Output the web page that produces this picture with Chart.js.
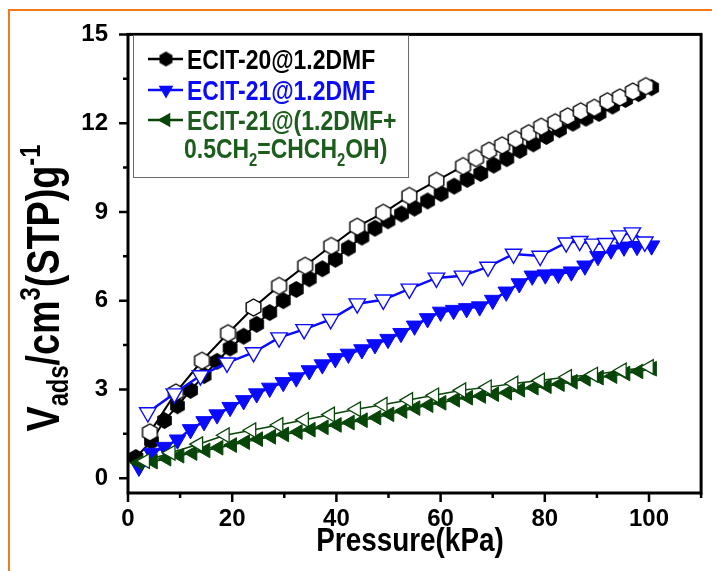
<!DOCTYPE html>
<html>
<head>
<meta charset="utf-8">
<title>Adsorption isotherms</title>
<script src="https://cdn.jsdelivr.net/npm/chart.js@4.4.1/dist/chart.umd.min.js"></script>
<style>
  html, body { margin: 0; padding: 0; background: #fff; }
  #wrap { width: 712px; height: 571px; position: relative; }
</style>
</head>
<body>
<div id="wrap"><canvas id="chart" width="712" height="571"></canvas></div>
<script>
// ECIT-20@1.2DMF, adsorption (filled) and desorption (open)
const ecit20AdsX = [1.5, 4.5, 7.0, 9.5, 12.0, 14.6, 17.1, 19.6, 22.2, 24.7, 27.2, 29.8, 32.3, 34.8, 37.3, 39.8, 42.3, 44.9, 47.4, 49.9,
                    52.5, 55.0, 57.5, 60.1, 62.6, 65.1, 67.7, 70.2, 72.7, 75.2, 77.8, 80.3, 82.8, 85.4, 87.9, 90.4, 93.0, 95.5, 98.0, 100.5];
const ecit20AdsY = [0.70, 1.25, 1.95, 2.45, 2.97, 3.47, 3.95, 4.40, 4.80, 5.20, 5.60, 6.00, 6.38, 6.74, 7.08, 7.40, 7.78, 8.15, 8.45, 8.70,
                    8.93, 9.13, 9.37, 9.62, 9.87, 10.10, 10.30, 10.58, 10.80, 11.08, 11.30, 11.55, 11.78, 12.00, 12.17, 12.33, 12.58, 12.80, 13.00, 13.20];
const ecit20DesX = [4.2, 9.2, 14.2, 19.2, 24.1, 29.0, 34.0, 39.0, 44.0, 49.0, 54.0, 59.2, 64.3, 66.8, 69.3, 71.8, 74.4, 76.9, 79.3, 82.0,
                    84.4, 86.9, 89.5, 92.0, 94.4, 96.9, 99.4];
const ecit20DesY = [1.55, 2.90, 3.97, 4.90, 5.77, 6.50, 7.18, 7.85, 8.50, 8.97, 9.54, 10.05, 10.55, 10.82, 11.07, 11.25, 11.46, 11.66, 11.88, 12.03,
                    12.23, 12.40, 12.52, 12.74, 12.87, 13.07, 13.25];

// ECIT-21@1.2DMF
const ecit21AdsX = [2.1, 4.5, 7.0, 9.5, 12.0, 14.6, 17.1, 19.6, 22.2, 24.7, 27.2, 29.8, 32.3, 34.8, 37.3, 39.8, 42.3, 44.9, 47.4, 49.9,
                    52.4, 55.0, 57.5, 60.0, 62.5, 65.0, 67.5, 70.0, 72.6, 75.1, 77.6, 80.1, 82.6, 85.1, 87.7, 90.2, 92.7, 95.2, 97.7, 100.5];
const ecit21AdsY = [0.38, 0.85, 1.05, 1.30, 1.65, 1.92, 2.15, 2.40, 2.63, 2.86, 3.05, 3.24, 3.40, 3.64, 3.84, 4.05, 4.20, 4.35, 4.52, 4.70,
                    4.90, 5.15, 5.40, 5.62, 5.68, 5.74, 5.80, 6.02, 6.30, 6.58, 6.84, 6.88, 6.90, 6.98, 7.18, 7.50, 7.72, 7.82, 7.84, 7.86];
const ecit21DesX = [3.8, 8.9, 13.9, 19.0, 24.1, 29.0, 33.8, 38.9, 44.0, 49.0, 54.0, 59.2, 64.2, 69.1, 74.0, 79.1, 84.1, 86.7, 89.2, 91.7,
                    94.3, 96.8, 99.2];
const ecit21DesY = [2.22, 2.86, 3.47, 3.90, 4.25, 4.75, 5.03, 5.37, 5.90, 6.03, 6.40, 6.77, 6.84, 7.14, 7.58, 7.51, 7.96, 8.01, 7.92, 7.94,
                    8.20, 8.30, 7.99];

// ECIT-21@(1.2DMF+0.5CH2=CHCH2OH)
const ecit21aAdsX = [2.0, 4.8, 7.4, 9.9, 12.4, 14.9, 17.4, 20.0, 22.5, 25.0, 27.5, 30.0, 32.6, 35.1, 37.6, 40.1, 42.6, 45.1, 47.7, 50.2,
                     52.7, 55.2, 57.7, 60.2, 62.8, 65.3, 67.8, 70.3, 72.8, 75.3, 77.9, 80.4, 82.9, 85.4, 87.9, 90.4, 93.0, 95.5, 98.0, 100.6];
const ecit21aAdsY = [0.52, 0.56, 0.66, 0.76, 0.85, 0.94, 1.03, 1.12, 1.22, 1.32, 1.40, 1.48, 1.56, 1.64, 1.72, 1.80, 1.88, 1.96, 2.05, 2.16,
                     2.27, 2.37, 2.47, 2.55, 2.65, 2.72, 2.78, 2.84, 2.89, 2.99, 3.06, 3.11, 3.18, 3.26, 3.36, 3.40, 3.45, 3.54, 3.61, 3.70];
const ecit21aDesX = [3.3, 8.2, 13.5, 18.6, 23.7, 28.9, 33.8, 38.8, 43.8, 48.9, 53.8, 58.8, 64.0, 68.9, 74.0, 79.1, 84.3, 89.3, 94.8, 100.0];
const ecit21aDesY = [0.58, 0.86, 1.15, 1.45, 1.62, 1.80, 1.97, 2.15, 2.33, 2.48, 2.64, 2.80, 2.97, 3.07, 3.20, 3.30, 3.42, 3.50, 3.64, 3.76];

const X_TICKS = [0, 20, 40, 60, 80, 100];
const X_MINOR = [10, 30, 50, 70, 90, 110];
const Y_TICKS = [0, 3, 6, 9, 12, 15];
const Y_MINOR = [1.5, 4.5, 7.5, 10.5, 13.5];

const BLACK = '#000000';
const BLUE = '#0a0aff';
const GREEN = '#084508';
const GREEN_TEXT = '#1c5c1c';

// condensed bold face if there is one, otherwise regular bold squeezed horizontally
const probe = document.createElement('canvas').getContext('2d');
probe.font = "bold 40px 'Liberation Sans Narrow', monospace";
const wNarrow = probe.measureText('ECIT-20@1.2DMF').width;
probe.font = 'bold 40px monospace';
const HAS_NARROW = Math.abs(wNarrow - probe.measureText('ECIT-20@1.2DMF').width) > 1;
const FONT = HAS_NARROW ? "'Liberation Sans Narrow', sans-serif" : "'Liberation Sans', Arial, sans-serif";
const SQUEEZE = HAS_NARROW ? 1 : 0.82;
const TICK_SIZE = HAS_NARROW ? 28 : 24;

function pts(xs, ys) {
  return xs.map((x, i) => ({ x, y: ys[i] }));
}

// pointy-top hexagon marker as an offscreen canvas
function hexMarker(r, fill, stroke, lw) {
  const s = Math.ceil(2 * r + lw + 2);
  const c = document.createElement('canvas');
  c.width = s; c.height = s;
  const g = c.getContext('2d');
  g.beginPath();
  for (let i = 0; i < 6; i++) {
    const a = -Math.PI / 2 + i * Math.PI / 3;
    const px = s / 2 + r * Math.cos(a), py = s / 2 + r * Math.sin(a);
    i ? g.lineTo(px, py) : g.moveTo(px, py);
  }
  g.closePath();
  g.fillStyle = fill;
  g.fill();
  if (lw) { g.lineWidth = lw; g.strokeStyle = stroke; g.stroke(); }
  return c;
}

const hexFilled = hexMarker(8.5, BLACK, BLACK, 0);
const hexOpen = hexMarker(8.5, '#ffffff', BLACK, 1.4);
const hexLegend = hexMarker(7.5, BLACK, BLACK, 0);

function triPath(ctx, x, y, r, rotDeg) {
  let a = rotDeg * Math.PI / 180;
  ctx.beginPath();
  for (let i = 0; i < 3; i++) {
    const px = x + Math.sin(a) * r, py = y - Math.cos(a) * r;
    i ? ctx.lineTo(px, py) : ctx.moveTo(px, py);
    a += 2 * Math.PI / 3;
  }
  ctx.closePath();
}

function richWidth(ctx, parts) {
  let w = 0;
  for (const p of parts) {
    ctx.font = `bold ${p.size}px ${FONT}`;
    w += ctx.measureText(p.t).width;
  }
  return w * SQUEEZE;
}

// a run of text pieces on one baseline; pieces may be sub/superscripts
function richText(ctx, parts, x, y, color, align) {
  const w = richWidth(ctx, parts);
  ctx.save();
  ctx.translate(align === 'center' ? x - w / 2 : x, y);
  ctx.scale(SQUEEZE, 1);
  ctx.fillStyle = color;
  ctx.textBaseline = 'alphabetic';
  ctx.textAlign = 'left';
  let cx = 0;
  for (const p of parts) {
    ctx.font = `bold ${p.size}px ${FONT}`;
    ctx.fillText(p.t, cx, p.dy || 0);
    cx += ctx.measureText(p.t).width;
  }
  ctx.restore();
}

const decorPlugin = {
  id: 'decor',
  beforeDraw(chart) {
    const ctx = chart.ctx;
    ctx.save();
    ctx.fillStyle = '#fff';
    ctx.fillRect(0, 0, chart.width, chart.height);
    // orange outer frame
    ctx.strokeStyle = '#f27a1e';
    ctx.lineWidth = 2;
    ctx.beginPath();
    ctx.moveTo(9, chart.height + 2);
    ctx.lineTo(9, 10);
    ctx.lineTo(chart.width + 2, 10);
    ctx.stroke();
    ctx.restore();
  },
  afterDraw(chart) {
    const ctx = chart.ctx;
    const a = chart.chartArea;
    const xs = chart.scales.x, ys = chart.scales.y;
    ctx.save();

    // axis frame
    ctx.strokeStyle = BLACK;
    ctx.lineWidth = 3;
    ctx.strokeRect(a.left, a.top, a.right - a.left, a.bottom - a.top);

    // outward tick marks
    ctx.lineWidth = 2.5;
    ctx.beginPath();
    X_TICKS.forEach(v => { const px = xs.getPixelForValue(v); ctx.moveTo(px, a.bottom); ctx.lineTo(px, a.bottom + 9); });
    X_MINOR.forEach(v => { const px = xs.getPixelForValue(v); ctx.moveTo(px, a.bottom); ctx.lineTo(px, a.bottom + 5); });
    Y_TICKS.forEach(v => { const py = ys.getPixelForValue(v); ctx.moveTo(a.left, py); ctx.lineTo(a.left - 9, py); });
    Y_MINOR.forEach(v => { const py = ys.getPixelForValue(v); ctx.moveTo(a.left, py); ctx.lineTo(a.left - 5, py); });
    ctx.stroke();

    // x title
    richText(ctx, [{ t: 'Pressure(kPa)', size: 34 }], 410, 551, BLACK, 'center');

    // y title, rotated
    ctx.save();
    ctx.translate(59, 288);
    ctx.rotate(-Math.PI / 2);
    richText(ctx, [
      { t: 'V', size: 46 },
      { t: 'ads', size: 29, dy: 9 },
      { t: '/cm', size: 46 },
      { t: '3', size: 29, dy: -19 },
      { t: '(STP)g', size: 46 },
      { t: '-1', size: 29, dy: -19 }
    ], 0, 0, BLACK, 'center');
    ctx.restore();

    // legend
    ctx.fillStyle = '#fff';
    ctx.fillRect(134, 35, 275, 142);
    ctx.strokeStyle = '#6a6a6a';
    ctx.lineWidth = 1;
    ctx.strokeRect(133.5, 35.5, 275, 142);

    const rows = [
      { base: 69, color: BLACK, text: BLACK, label: 'ECIT-20@1.2DMF', mark: 'hex' },
      { base: 100, color: BLUE, text: BLUE, label: 'ECIT-21@1.2DMF', mark: 'down' },
      { base: 130, color: GREEN, text: GREEN_TEXT, label: 'ECIT-21@(1.2DMF+', mark: 'left' }
    ];
    rows.forEach(r => {
      const my = r.base - 10;
      ctx.strokeStyle = r.color;
      ctx.lineWidth = 2.5;
      ctx.beginPath();
      ctx.moveTo(148, my);
      ctx.lineTo(183, my);
      ctx.stroke();
      if (r.mark === 'hex') {
        ctx.drawImage(hexLegend, 166 - hexLegend.width / 2, my - hexLegend.height / 2);
      } else {
        triPath(ctx, 166, my, 8.5, r.mark === 'down' ? 180 : 270);
        ctx.fillStyle = r.color;
        ctx.fill();
      }
      richText(ctx, [{ t: r.label, size: 28 }], 187, r.base, r.text);
    });
    richText(ctx, [
      { t: '0.5CH', size: 28 },
      { t: '2', size: 18, dy: 8 },
      { t: '=CHCH', size: 28 },
      { t: '2', size: 18, dy: 8 },
      { t: 'OH)', size: 28 }
    ], 184, 158, GREEN_TEXT);

    ctx.restore();
  }
};

const datasets = [
  {
    label: 'ECIT-21@(1.2DMF+0.5CH2=CHCH2OH) desorption',
    data: pts(ecit21aDesX, ecit21aDesY),
    borderColor: GREEN, borderWidth: 1.5,
    pointStyle: 'triangle', pointRotation: 270, pointRadius: 8.5,
    pointBackgroundColor: '#ffffff', pointBorderColor: GREEN, pointBorderWidth: 1.3,
    order: 1
  },
  {
    label: 'ECIT-21@(1.2DMF+0.5CH2=CHCH2OH) adsorption',
    data: pts(ecit21aAdsX, ecit21aAdsY),
    borderColor: GREEN, borderWidth: 1.5,
    pointStyle: 'triangle', pointRotation: 270, pointRadius: 8.5,
    pointBackgroundColor: GREEN, pointBorderColor: GREEN, pointBorderWidth: 1,
    order: 2
  },
  {
    label: 'ECIT-21@1.2DMF desorption',
    data: pts(ecit21DesX, ecit21DesY),
    borderColor: BLUE, borderWidth: 2.5,
    pointStyle: 'triangle', pointRotation: 180, pointRadius: 9.5,
    pointBackgroundColor: '#ffffff', pointBorderColor: BLUE, pointBorderWidth: 1.4,
    order: 3
  },
  {
    label: 'ECIT-21@1.2DMF adsorption',
    data: pts(ecit21AdsX, ecit21AdsY),
    borderColor: BLUE, borderWidth: 2.5,
    pointStyle: 'triangle', pointRotation: 180, pointRadius: 9.5,
    pointBackgroundColor: BLUE, pointBorderColor: BLUE, pointBorderWidth: 1,
    order: 4
  },
  {
    label: 'ECIT-20@1.2DMF desorption',
    data: pts(ecit20DesX, ecit20DesY),
    borderColor: BLACK, borderWidth: 2,
    pointStyle: hexOpen,
    order: 5
  },
  {
    label: 'ECIT-20@1.2DMF adsorption',
    data: pts(ecit20AdsX, ecit20AdsY),
    borderColor: BLACK, borderWidth: 2,
    pointStyle: hexFilled,
    order: 6
  }
];

datasets.forEach(d => { d.showLine = true; d.fill = false; d.tension = 0; });

new Chart(document.getElementById('chart'), {
  type: 'scatter',
  data: { datasets },
  options: {
    responsive: false,
    animation: false,
    devicePixelRatio: 1,
    layout: { padding: { left: 0, right: 2, top: 33, bottom: 0 } },
    plugins: { legend: { display: false }, tooltip: { enabled: false } },
    scales: {
      x: {
        type: 'linear', min: 0, max: 110,
        grid: { display: false, drawTicks: false },
        border: { display: false },
        afterBuildTicks: s => { s.ticks = X_TICKS.map(v => ({ value: v })); },
        afterFit: s => { s.height = 78; },
        ticks: { color: BLACK, padding: 12, maxRotation: 0, autoSkip: false, font: { family: FONT, size: TICK_SIZE, weight: 'bold' } }
      },
      y: {
        type: 'linear', min: -0.5, max: 15,
        grid: { display: false, drawTicks: false },
        border: { display: false },
        afterBuildTicks: s => { s.ticks = Y_TICKS.map(v => ({ value: v })); },
        afterFit: s => { s.width = 128; },
        ticks: { color: BLACK, padding: 20, autoSkip: false, font: { family: FONT, size: TICK_SIZE, weight: 'bold' } }
      }
    }
  },
  plugins: [decorPlugin]
});
</script>
</body>
</html>
